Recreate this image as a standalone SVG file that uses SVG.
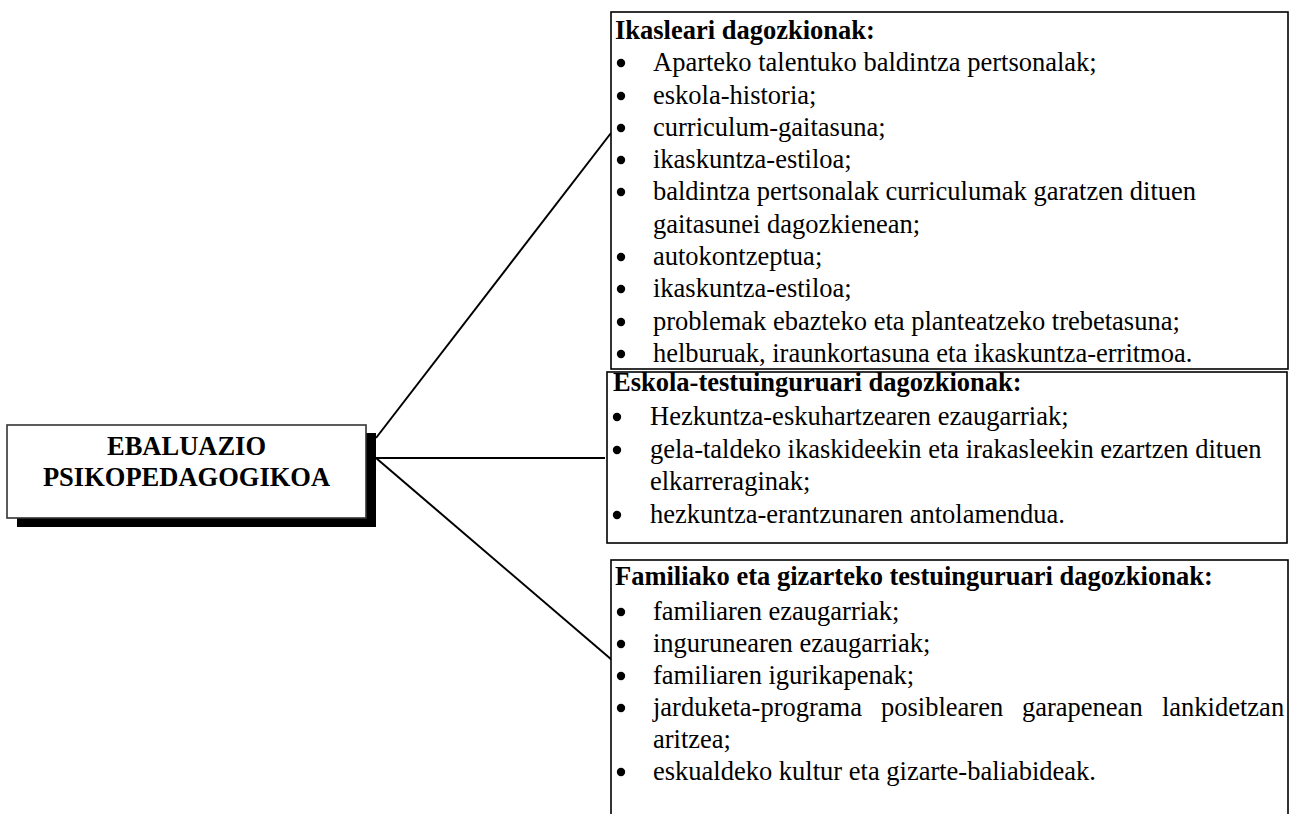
<svg xmlns="http://www.w3.org/2000/svg" width="1296" height="814" viewBox="0 0 1296 814">
<style>
.t{font-family:"Liberation Serif","Times New Roman",serif;font-size:26.5px;fill:#000}
.b{font-weight:bold}
.box{fill:#fff;stroke:#000;stroke-width:1.6}
.bul{fill:#000}
.con{stroke:#000;stroke-width:2;fill:none}
</style>
<rect width="1296" height="814" fill="#fff"/>
<g id="connectors">
<line class="con" x1="376" y1="438" x2="611" y2="133"/>
<line class="con" x1="376" y1="458" x2="605" y2="458"/>
<line class="con" x1="376" y1="458" x2="612" y2="660"/>
</g>
<g id="root">
<rect x="17" y="433" width="359" height="94" fill="#000"/>
<rect class="box" x="7" y="425" width="359" height="93" style="stroke:#333"/>
<text class="t b" x="186.5" y="455" text-anchor="middle">EBALUAZIO</text>
<text class="t b" x="186.5" y="486" text-anchor="middle">PSIKOPEDAGOGIKOA</text>
</g>
<g id="ikaslea">
<rect class="box" x="611" y="12" width="677" height="357"/>
<text class="t b" x="615" y="39">Ikasleari dagozkionak:</text>
<g class="bul">
<circle cx="621" cy="63" r="4.2"/><circle cx="621" cy="96" r="4.2"/><circle cx="621" cy="128" r="4.2"/><circle cx="621" cy="160" r="4.2"/><circle cx="621" cy="192" r="4.2"/><circle cx="621" cy="257" r="4.2"/><circle cx="621" cy="289" r="4.2"/><circle cx="621" cy="322" r="4.2"/><circle cx="621" cy="354" r="4.2"/>
</g>
<text class="t" x="653" y="71">Aparteko talentuko baldintza pertsonalak;</text>
<text class="t" x="653" y="104">eskola-historia;</text>
<text class="t" x="653" y="136">curriculum-gaitasuna;</text>
<text class="t" x="653" y="168">ikaskuntza-estiloa;</text>
<text class="t" x="653" y="200">baldintza pertsonalak curriculumak garatzen dituen</text>
<text class="t" x="653" y="233">gaitasunei dagozkienean;</text>
<text class="t" x="653" y="265">autokontzeptua;</text>
<text class="t" x="653" y="297">ikaskuntza-estiloa;</text>
<text class="t" x="653" y="330">problemak ebazteko eta planteatzeko trebetasuna;</text>
<text class="t" x="653" y="362">helburuak, iraunkortasuna eta ikaskuntza-erritmoa.</text>
</g>
<g id="eskola">
<rect class="box" x="607" y="372" width="680" height="171" style="fill:none"/>
<text class="t b" x="613" y="391">Eskola-testuinguruari dagozkionak:</text>
<g class="bul">
<circle cx="617" cy="417" r="4.2"/><circle cx="617" cy="450" r="4.2"/><circle cx="617" cy="515" r="4.2"/>
</g>
<text class="t" x="650" y="425">Hezkuntza-eskuhartzearen ezaugarriak;</text>
<text class="t" x="650" y="458">gela-taldeko ikaskideekin eta irakasleekin ezartzen dituen</text>
<text class="t" x="650" y="490">elkarreraginak;</text>
<text class="t" x="650" y="523">hezkuntza-erantzunaren antolamendua.</text>
</g>
<g id="familia">
<rect class="box" x="611" y="560" width="677" height="270"/>
<text class="t b" x="615" y="585">Familiako eta gizarteko testuinguruari dagozkionak:</text>
<g class="bul">
<circle cx="621" cy="612" r="4.2"/><circle cx="621" cy="644" r="4.2"/><circle cx="621" cy="676" r="4.2"/><circle cx="621" cy="708" r="4.2"/><circle cx="621" cy="772" r="4.2"/>
</g>
<text class="t" x="653" y="620">familiaren ezaugarriak;</text>
<text class="t" x="653" y="652">ingurunearen ezaugarriak;</text>
<text class="t" x="653" y="684">familiaren igurikapenak;</text>
<text class="t" y="716"><tspan x="653">jarduketa-programa</tspan><tspan x="881">posiblearen</tspan><tspan x="1022">garapenean</tspan><tspan x="1162">lankidetzan</tspan></text>
<text class="t" x="653" y="748">aritzea;</text>
<text class="t" x="653" y="780">eskualdeko kultur eta gizarte-baliabideak.</text>
</g>
</svg>
